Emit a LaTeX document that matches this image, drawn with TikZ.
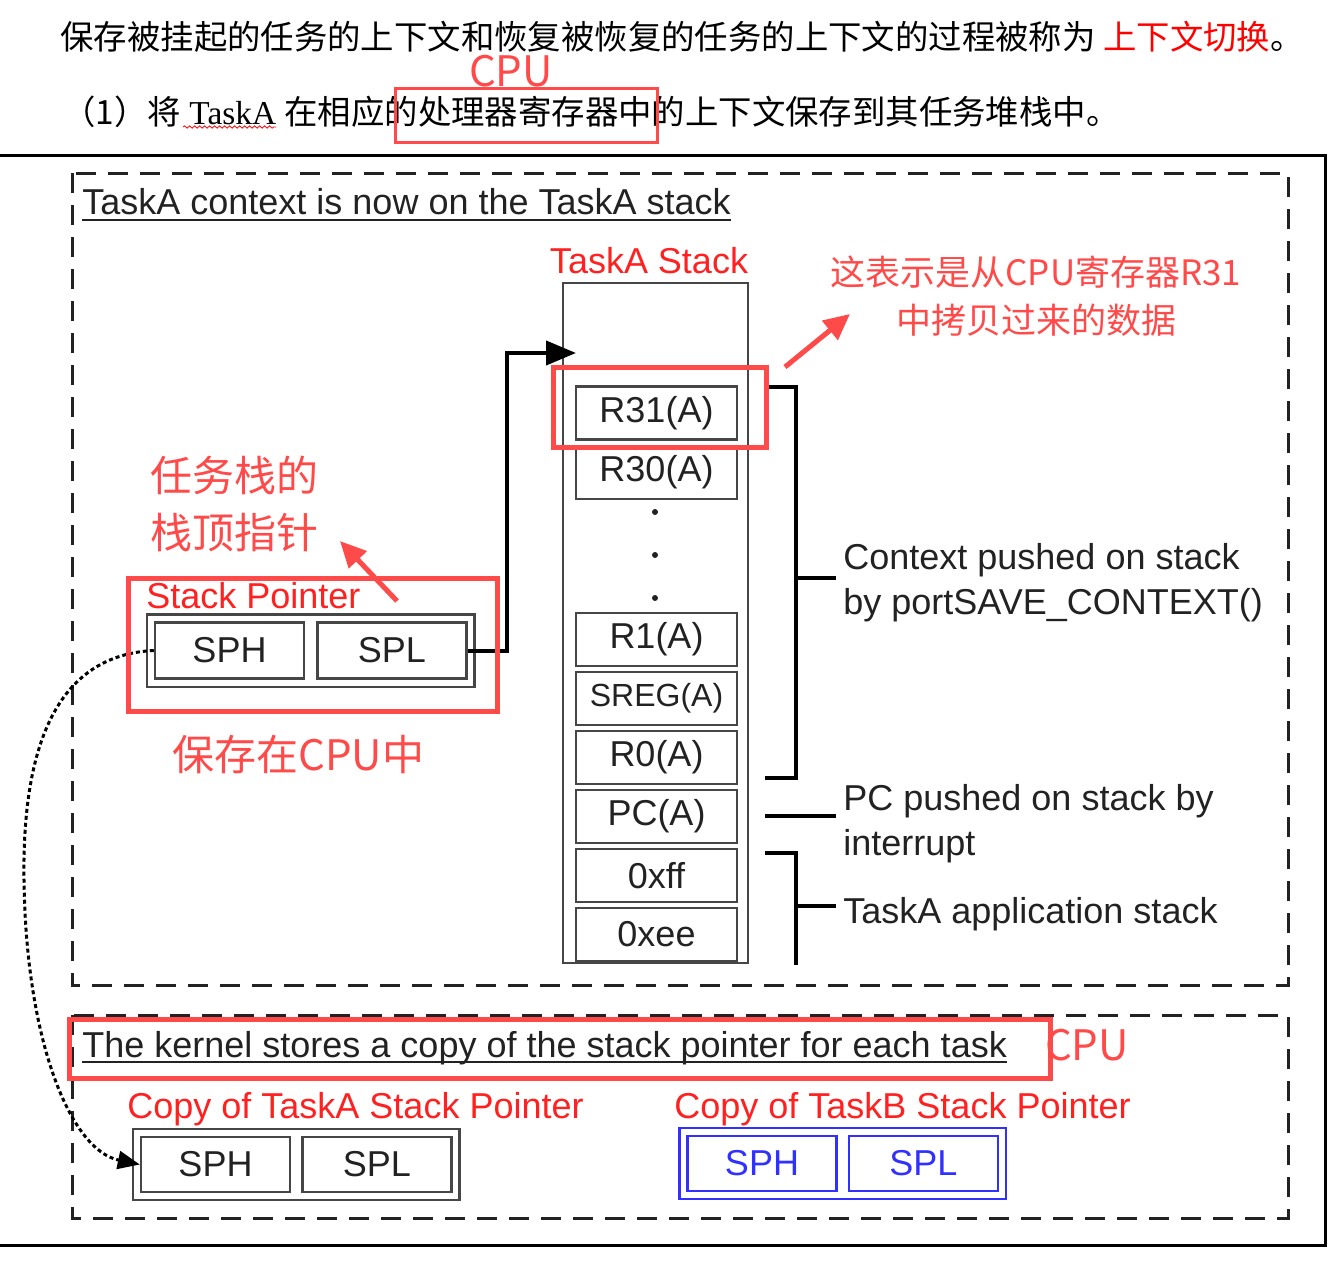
\documentclass[tikz,border=0pt]{standalone}
\usepackage{fontspec}
\setmainfont{Liberation Sans}
\newfontfamily\cjk{Noto Sans CJK SC}
\newfontfamily\timesfont{Liberation Serif}
\usetikzlibrary{arrows.meta, positioning, fit, decorations.pathmorphing}

\definecolor{markred}{RGB}{255,74,74}
\definecolor{labelred}{RGB}{255,32,32}
\definecolor{copyblue}{RGB}{48,48,255}
\definecolor{boxgray}{RGB}{70,70,70}
\definecolor{inkgray}{RGB}{34,34,34}

\newcommand{\diagfont}{\fontsize{18pt}{22.5pt}\selectfont}
\newcommand{\notefont}{\cjk\fontsize{21pt}{28.5pt}\selectfont}
\newcommand{\smallnotefont}{\cjk\fontsize{17.5pt}{24pt}\selectfont}
\newcommand{\bodyfont}{\cjk\fontsize{16.7pt}{20pt}\selectfont}

\begin{document}
\begin{tikzpicture}[
        x=0.5pt, y=-0.5pt,
        node distance=5pt,
        slot/.style={rectangle, draw=boxgray, line width=1.2pt, minimum width=80.5pt, minimum height=26.5pt, inner sep=0pt, font=\diagfont, text=inkgray},
        spslot/.style={slot, minimum width=74.5pt, minimum height=28pt},
        spframe/.style={rectangle, draw=boxgray, line width=1.2pt, inner sep=3.5pt},
        textlabel/.style={inner sep=0pt, font=\diagfont, text=inkgray, align=left},
        redlabel/.style={textlabel, text=labelred},
        note/.style={inner sep=0pt, font=\notefont, text=markred, align=left},
        markbox/.style={draw=markred, line width=2.5pt},
        markarrow/.style={draw=markred, line width=2.5pt, -{Triangle[length=13pt, width=12pt]}},
        frame/.style={draw=inkgray, line width=1.5pt, dash pattern=on 10pt off 6pt},
        bracket/.style={draw=black, line width=2pt},
        pointer/.style={draw=black, line width=2pt, -{Triangle[length=15pt, width=12pt]}},
        copyline/.style={draw=black, line width=1.5pt, dash pattern=on 2pt off 1.5pt, -{Triangle[length=11pt, width=9pt]}}
        ]
        \useasboundingbox (0,0) rectangle (1340,1270);

        % text above the figure
        \node[anchor=west, inner sep=0pt, font=\bodyfont] (intro) at (60,37) {保存被挂起的任务的上下文和恢复被恢复的任务的上下文的过程被称为 \textcolor{red}{上下文切换}。};
        \node[anchor=west, inner sep=0pt, font=\bodyfont] (stepone) at (62,112) {（1）将{\timesfont\ TaskA\ }在相应的处理器寄存器中的上下文保存到其任务堆栈中。};
        \draw[red, line width=0.4pt, decorate, decoration={snake, amplitude=0.6pt, segment length=2.5pt}] (183,127) -- (276,127);
        \draw[markbox, line width=1.5pt] (395,88) rectangle (657,142);
        \node[note] (cputop) at (511,71) {CPU};

        % figure frame and dashed regions
        \draw[line width=1.5pt] (0,155) -- (1325,155) -- (1325,1245) -- (0,1245);
        \draw[frame] (72,173) rectangle (1288,985);
        \draw[frame] (72,1015) rectangle (1288,1218);

        \node[textlabel, anchor=base west] (titlea) at (82,214) {TaskA context is now on the TaskA stack};
        \draw[line width=1pt, inkgray] ([yshift=-3pt]titlea.base west) -- ([yshift=-3pt]titlea.base east);

        % TaskA stack
        \node[redlabel, anchor=base] (stacklabel) at (649,273) {TaskA Stack};
        \node[draw=boxgray, line width=1pt, minimum width=92.5pt, minimum height=340pt] (stack) at (655.5,623) {};
        \foreach \name/\txt/\y in {r31/R31(A)/413, r30/R30(A)/472.5, r1/R1(A)/639.5, sreg/{\fontsize{16pt}{19pt}\selectfont SREG(A)}/698.5,
                r0/R0(A)/757.5, pc/PC(A)/816.5, xff/0xff/875.5, xee/0xee/934.5}
            \node[slot] (\name) at (656.5,\y) {\txt};
        \foreach \y in {512,555,598}
            \fill[inkgray] (655,\y) circle (1.5pt);

        \draw[bracket] (766,387) -| (796,778) -- (765,778);
        \draw[bracket] (796,578) -- (836,578);
        \draw[bracket] (765,816) -- (836,816);
        \draw[bracket] (765,853) -| (796,965);
        \draw[bracket] (796,906) -- (836,906);
        \node[textlabel, anchor=west] (ctxlabel) at (843,583) {Context pushed on stack\\by portSAVE\_CONTEXT()};
        \node[textlabel, anchor=west] (pclabel) at (843,824) {PC pushed on stack by\\interrupt};
        \node[textlabel, anchor=base west] (applabel) at (843,923) {TaskA application stack};

        % CPU stack pointer
        \node[redlabel, anchor=base west] (splabel) at (146,608) {Stack Pointer};
        \node[spslot] (sph) at (229.5,650.5) {SPH};
        \node[spslot, right=5.5pt of sph] (spl) {SPL};
        \node[spframe, fit=(sph)(spl)] (spbox) {};
        \coordinate (stacktop) at (576,353);
        \draw[pointer] (spl.east) -| (507,353) -- (stacktop);

        % kernel copies
        \node[textlabel, anchor=base west] (titleb) at (82,1057) {The kernel stores a copy of the stack pointer for each task};
        \draw[line width=1pt, inkgray] ([yshift=-2.5pt]titleb.base west) -- ([yshift=-2.5pt]titleb.base east);
        \node[redlabel, anchor=base west] (cpalabel) at (127,1118) {Copy of TaskA Stack Pointer};
        \node[redlabel, anchor=base west] (cpblabel) at (674,1118) {Copy of TaskB Stack Pointer};
        \node[spslot, minimum height=27.5pt] (cpasph) at (215.5,1164.5) {SPH};
        \node[spslot, minimum height=27.5pt, right=5pt of cpasph] (cpaspl) {SPL};
        \node[spframe, fit=(cpasph)(cpaspl)] (cpabox) {};
        \node[spslot, minimum height=27.5pt, draw=copyblue, text=copyblue] (cpbsph) at (762,1163.5) {SPH};
        \node[spslot, minimum height=27.5pt, draw=copyblue, text=copyblue, right=5pt of cpbsph] (cpbspl) {SPL};
        \node[spframe, draw=copyblue, fit=(cpbsph)(cpbspl)] (cpbbox) {};
        \draw[copyline] (sph.west) .. controls (60,655) and (22,740) .. (24,880)
            .. controls (26,1040) and (70,1150) .. (cpasph.west);

        % red remarks
        \draw[markbox] (553,367) rectangle (766,447);
        \draw[markbox] (128,578) rectangle (497,711);
        \draw[markbox] (69,1019) rectangle (1050,1078);
        \node[note, align=center, font=\smallnotefont] (r31note) at (1036,296) {这表示是从CPU寄存器R31\\中拷贝过来的数据};
        \node[note, anchor=west] (spnote) at (150,503.5) {任务栈的\\栈顶指针};
        \node[note, anchor=west] (cpunote) at (172,755) {保存在CPU中};
        \node[note] (cpubottom) at (1087,1045) {CPU};
        \coordinate (r31tail) at (785,367);
        \coordinate (r31tip) at (850,314);
        \coordinate (sptail) at (397,601);
        \coordinate (sptip) at (340,541);
        \draw[markarrow] (r31tail) -- (r31tip);
        \draw[markarrow] (sptail) -- (sptip);
      \end{tikzpicture}
\end{document}
